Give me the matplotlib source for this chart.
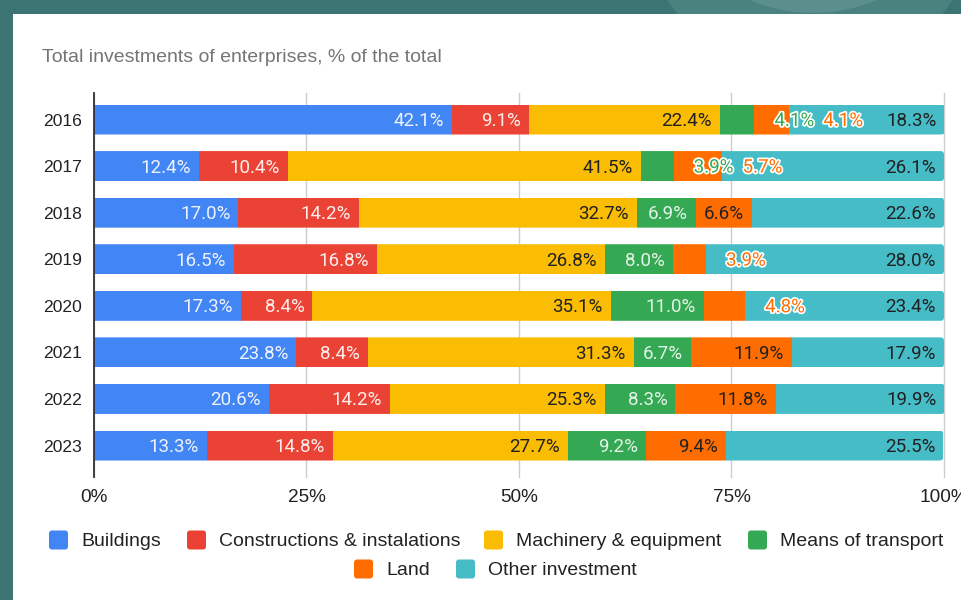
import matplotlib
matplotlib.use("Agg")
import matplotlib.pyplot as plt
import matplotlib.patheffects as pe
from matplotlib.patches import Rectangle, FancyBboxPatch, Ellipse
import numpy as np

# ---- data -------------------------------------------------------------
years = ["2016", "2017", "2018", "2019", "2020", "2021", "2022", "2023"]
categories = ["Buildings", "Constructions & instalations", "Machinery & equipment",
              "Means of transport", "Land", "Other investment"]
buildings = [42.1, 12.4, 17.0, 16.5, 17.3, 23.8, 20.6, 13.3]
constructions = [9.1, 10.4, 14.2, 16.8, 8.4, 8.4, 14.2, 14.8]
machinery = [22.4, 41.5, 32.7, 26.8, 35.1, 31.3, 25.3, 27.7]
transport = [4.1, 3.9, 6.9, 8.0, 11.0, 6.7, 8.3, 9.2]
land = [4.1, 5.7, 6.6, 3.9, 4.8, 11.9, 11.8, 9.4]
other = [18.3, 26.1, 22.6, 28.0, 23.4, 17.9, 19.9, 25.5]
x_ticks = [0, 25, 50, 75, 100]
x_tick_labels = ["0%", "25%", "50%", "75%", "100%"]
title = "Total investments of enterprises, % of the total"

series = [buildings, constructions, machinery, transport, land, other]
colors = ["#4285F4", "#EA4335", "#FBBC04", "#34A853", "#FF6D01", "#46BDC6"]
inner_text = ["#eef3fe", "#fdeeec", "#202124", "#e3f3e7", "#202124", "#202124"]

W, H = 962, 600
AXIS_FONT = "Liberation Sans"
LABEL_FONT = "Roboto"


def fx(px):
    return px / W


def fy(py):
    return 1 - py / H


fig = plt.figure(figsize=(W / 100, H / 100), dpi=100)
fig.patch.set_facecolor("#3c7473")

# decorative circles in the top band and the white card
fig.add_artist(Ellipse((fx(810), fy(-96)), 2 * 172 / W, 2 * 172 / H,
                       transform=fig.transFigure, facecolor="#4a8280",
                       edgecolor="none", zorder=-3))
fig.add_artist(Ellipse((fx(813), fy(-149)), 2 * 162 / W, 2 * 162 / H,
                       transform=fig.transFigure, facecolor="#5a8f8d",
                       edgecolor="none", zorder=-2))
fig.add_artist(Rectangle((fx(13), 0), 1, fy(14), transform=fig.transFigure,
                         facecolor="white", edgecolor="none", zorder=-1))

# ---- axes -------------------------------------------------------------
ax_left, ax_right, ax_top, ax_bottom = 94, 944, 93, 477
ax = fig.add_axes([fx(ax_left), fy(ax_bottom), (ax_right - ax_left) / W,
                   (ax_bottom - ax_top) / H])
ax.set_facecolor("none")
ax.set_xlim(0, 100)
ax.set_ylim(7.676, -0.569)

row_px = (ax_bottom - ax_top) / (7.676 + 0.569)
bar_h = 30 / row_px
y = np.arange(len(years))
totals = np.sum(np.array(series), axis=0)

# rounded right end for every stacked row
radius_x = 0.42
aspect = (3.5 / row_px) / radius_x
clips = []
for i in range(len(years)):
    clip = FancyBboxPatch((-5, y[i] - bar_h / 2), 5 + totals[i], bar_h,
                          boxstyle=f"round,pad=0,rounding_size={radius_x}",
                          mutation_aspect=aspect, transform=ax.transData)
    clips.append(clip)

left = np.zeros(len(years))
for values, color in zip(series, colors):
    bars = ax.barh(y, values, left=left, height=bar_h, color=color,
                   linewidth=0, zorder=2)
    for i, bar in enumerate(bars):
        bar.set_clip_path(clips[i])
    left += np.array(values)

ax.set_xticks(x_ticks)
ax.set_xticklabels(x_tick_labels)
ax.set_yticks(y)
ax.set_yticklabels(years)
ax.tick_params(axis="both", length=0, labelcolor="#222222")
ax.tick_params(axis="x", pad=9, labelsize=13.7)
ax.tick_params(axis="y", pad=8.5, labelsize=12.6)
for lab in ax.get_xticklabels() + ax.get_yticklabels():
    lab.set_fontfamily(AXIS_FONT)
ax.xaxis.grid(True, color="#cccccc", linewidth=1)
ax.set_axisbelow(True)
for g in ax.get_xgridlines():
    g.set_clip_on(False)
for side in ["top", "right", "bottom"]:
    ax.spines[side].set_visible(False)
ax.spines["left"].set_color("#333333")
ax.spines["left"].set_linewidth(1.3)
ax.spines["left"].set_zorder(3)

# ---- value labels -----------------------------------------------------
fig.canvas.draw()
renderer = fig.canvas.get_renderer()
dy = -1.5  # nudge digits onto the bar's centre line
for i in range(len(years)):
    start = 0.0
    prev_right = None
    for k, values in enumerate(series):
        v = values[i]
        end = start + v
        text = f"{v:.1f}%"
        if v >= 6.0:
            ax.annotate(text, xy=(end, y[i]), xytext=(-8, dy),
                        textcoords="offset pixels", ha="right", va="center",
                        fontsize=13.5, family=LABEL_FONT, color=inner_text[k],
                        zorder=4, annotation_clip=False)
        else:
            end_px = ax.transData.transform((end, y[i]))[0]
            x_px = end_px + 20
            if prev_right is not None:
                x_px = max(x_px, prev_right + 9)
            t = ax.annotate(text, xy=(end, y[i]), xytext=(x_px - end_px, dy),
                            textcoords="offset pixels", ha="left", va="center",
                            fontsize=13.5, family=LABEL_FONT, color=colors[k],
                            zorder=5, annotation_clip=False,
                            path_effects=[pe.withStroke(linewidth=2.5,
                                                        foreground="white")])
            prev_right = t.get_window_extent(renderer).x1
        start = end

# ---- title ------------------------------------------------------------
fig.text(fx(42), fy(57.5), title, ha="left", va="center", fontsize=14,
         family=AXIS_FONT, color="#757575")

# ---- legend -----------------------------------------------------------
legend_box_x = [49, 187, 484, 748, 354, 456]
legend_row_y = [540, 540, 540, 540, 569, 569]
box_w, box_h = 19, 19
for name, color, bx, by in zip(categories, colors, legend_box_x, legend_row_y):
    fig.add_artist(FancyBboxPatch((fx(bx), fy(by + box_h / 2)), box_w / W, box_h / H,
                                  boxstyle="round,pad=0,rounding_size=0.003",
                                  mutation_aspect=W / H,
                                  transform=fig.transFigure, facecolor=color,
                                  edgecolor="none"))
    fig.text(fx(bx + box_w + 13), fy(by + 1.5), name, ha="left", va="center",
             fontsize=14, family=AXIS_FONT, color="#222222")

fig.savefig("out.png", dpi=100)
